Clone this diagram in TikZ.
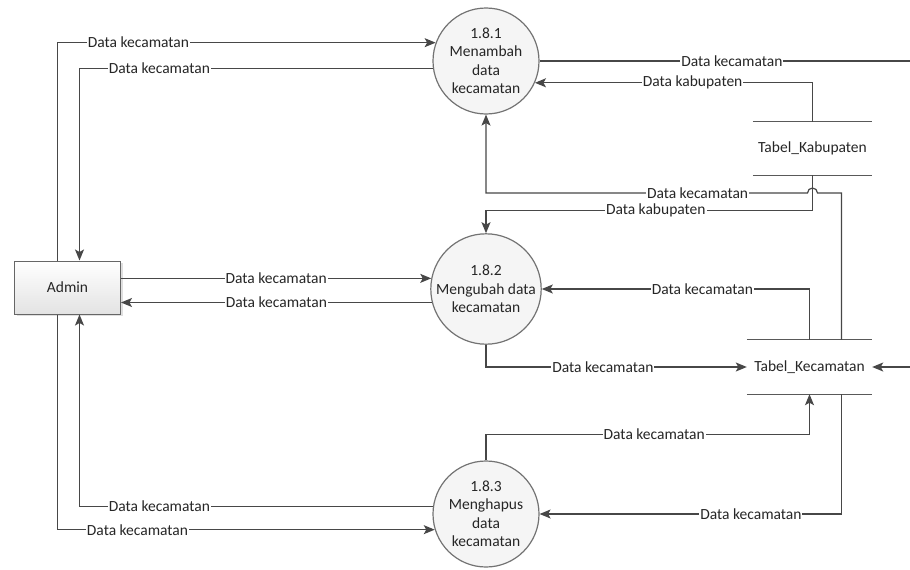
\documentclass[tikz,border=0pt]{standalone}
\usepackage{fontspec}
\setmainfont{Carlito}
\usetikzlibrary{arrows.meta,shadows}

\tikzset{
  proses/.style={circle, draw=black!55, line width=1.2pt, fill=gray!8,
    minimum size=106pt, inner sep=0pt, align=center, text=black!85},
  entitas/.style={rectangle, draw=black!60, line width=1pt,
    top color=white, bottom color=gray!22,
    drop shadow={shadow xshift=2pt, shadow yshift=-2pt, opacity=0.25},
    minimum width=106pt, minimum height=53pt, text=black!85},
  simpan/.style={rectangle, inner sep=0pt, text=black!85},
  garis/.style={draw=black!65, line width=1.2pt},
  alir/.style={draw=black!72, line width=1.2pt,
    -{Stealth[length=11pt, width=9pt, inset=2.5pt]}},
  ket/.style={fill=white, inner sep=1pt, text=black!85}
}

\begin{document}
\begin{tikzpicture}[x=1pt, y=-1pt, font=\fontsize{15.5}{18.5}\selectfont]
  \useasboundingbox (0,0) rectangle (910,570);
  \clip (0,0) rectangle (910,570);
  % external entity and processes
  \node[entitas] (admin) at (67.5,287.5) {Admin};
  \node[proses] (p1) at (486,61) {1.8.1\\Menambah\\data\\kecamatan};
  \node[proses] (p2) at (486,289) {1.8.2\\Mengubah data\\kecamatan};
  \node[proses] (p3) at (486,514) {1.8.3\\Menghapus\\data\\kecamatan};
  % data stores
  \node[simpan, minimum width=119pt, minimum height=53pt] (kab) at (812.5,148.5) {Tabel\_Kabupaten};
  \node[simpan, minimum width=125pt, minimum height=54pt] (kec) at (809.5,367) {Tabel\_Kecamatan};
  \foreach \s in {kab,kec} {
    \draw[garis] (\s.north west) -- (\s.north east) (\s.south west) -- (\s.south east);
  }
  \coordinate (lompat) at (kab.south |- 0,193);
  \coordinate (tepi) at (918,61);
  % flows of 1.8.1
  \draw[alir] ([xshift=-10pt]admin.north) |- node[ket, pos=0.607] {Data kecamatan} (p1.160);
  \draw[alir] (p1.188) -| node[ket, pos=0.387] {Data kecamatan} ([xshift=12pt]admin.north);
  \draw[alir] (p1.east) -- node[ket, pos=0.508] {Data kecamatan} (tepi) |- (kec.east);
  \draw[alir] (kab.north) |- node[ket, pos=0.716] {Data kabupaten} (p1.-24.5);
  \draw[alir] ([xshift=32pt]kec.north) |- ([xshift=5pt]lompat)
    arc[start angle=0, end angle=-180, radius=5]
    -| node[ket, pos=0.171] {Data kecamatan} (p1.south);
  % flows of 1.8.2
  \draw[alir] (kab.south) -- ++(0,35) -| node[ket, pos=0.24] {Data kabupaten} (p2.north);
  \draw[alir] (admin.east |- p2.169) -- node[ket] {Data kecamatan} (p2.169);
  \draw[alir] (p2.194) -- node[ket] {Data kecamatan} (admin.east |- p2.194);
  \draw[alir] (kec.north) |- node[ket, pos=0.70] {Data kecamatan} (p2.east);
  \draw[alir] (p2.south) |- node[ket, pos=0.724] {Data kecamatan} (kec.west);
  % flows of 1.8.3
  \draw[alir] (p3.north) |- node[ket, pos=0.76] {Data kecamatan} ([yshift=-40pt]kec.south) -- (kec.south);
  \draw[alir] ([xshift=32pt]kec.south) |- node[ket, pos=0.65] {Data kecamatan} (p3.east);
  \draw[alir] (p3.172) -| node[ket, pos=0.387] {Data kecamatan} ([xshift=12pt]admin.south);
  \draw[alir] ([xshift=-10pt]admin.south) |- node[ket, pos=0.606] {Data kecamatan} (p3.197.6);
\end{tikzpicture}
\end{document}
